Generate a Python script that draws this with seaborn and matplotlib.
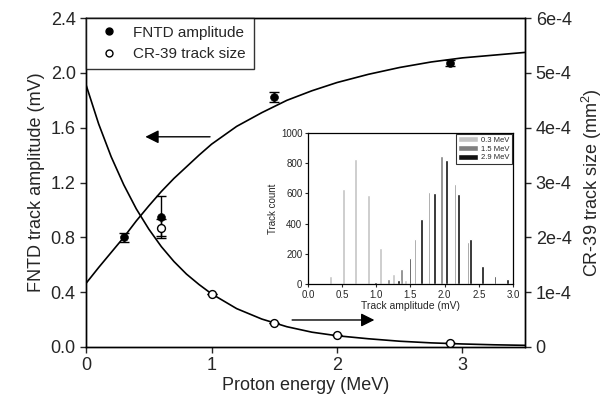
import matplotlib
matplotlib.use('Agg')
import matplotlib.pyplot as plt
from matplotlib.lines import Line2D
import pandas as pd
import seaborn as sns

# main plot: measured points
fntd_energy = [0.3, 0.6, 1.5, 2.9]
fntd_amp = [0.80, 0.95, 1.826, 2.074]
fntd_err = [0.033, 0.155, 0.035, 0.02]

cr39_energy = [0.6, 1.0, 1.5, 2.0, 2.9]
cr39_size = [2.18e-4, 9.67e-5, 4.3e-5, 2.24e-5, 6.7e-6]
cr39_err = [1.5e-5, 0, 0, 0, 0]

# fitted curves
fit_x = [0, 0.1, 0.2, 0.3, 0.4, 0.5, 0.6, 0.7, 0.8, 0.9, 1.0, 1.2, 1.4, 1.6,
         1.8, 2.0, 2.25, 2.5, 2.75, 3.0, 3.25, 3.5]
fntd_fit = [0.465, 0.58, 0.69, 0.80, 0.92, 1.03, 1.135, 1.23, 1.315, 1.40, 1.48,
            1.61, 1.71, 1.80, 1.87, 1.93, 1.99, 2.04, 2.08, 2.11, 2.13, 2.15]
cr39_fit = [4.78e-4, 4.07e-4, 3.47e-4, 2.96e-4, 2.52e-4, 2.15e-4, 1.83e-4, 1.56e-4,
            1.33e-4, 1.14e-4, 9.7e-5, 7.0e-5, 5.1e-5, 3.7e-5, 2.7e-5, 2.05e-5,
            1.5e-5, 1.05e-5, 7.5e-6, 5.5e-6, 4.0e-6, 3.0e-6]

# inset histogram
amp_03 = [0.332, 0.517, 0.698, 0.882, 1.064, 1.248, 1.430, 1.624]
cnt_03 = [55, 629, 826, 587, 236, 64, 26, 9]
amp_15 = [1.175, 1.371, 1.566, 1.771, 1.951, 2.151, 2.346]
cnt_15 = [33, 97, 296, 607, 848, 662, 280]
amp_29 = [0.991, 1.322, 1.493, 1.664, 1.848, 2.024, 2.205, 2.381, 2.557, 2.737, 2.917]
cnt_29 = [11, 24, 170, 430, 600, 821, 596, 298, 119, 55, 31]

sns.set_style('ticks')
plt.rcParams['font.family'] = ['Liberation Sans', 'DejaVu Sans']
plt.rcParams['mathtext.fontset'] = 'custom'
plt.rcParams['mathtext.rm'] = 'Liberation Sans'

fig = plt.figure(figsize=(6.15, 4.03), dpi=100)
ax = fig.add_axes([0.140, 0.139, 0.714, 0.816])
ax2 = ax.twinx()

fit_df = pd.DataFrame({'energy': fit_x, 'fntd': fntd_fit, 'cr39': cr39_fit})
sns.lineplot(data=fit_df, x='energy', y='fntd', ax=ax, color='black', lw=1.2)
sns.lineplot(data=fit_df, x='energy', y='cr39', ax=ax2, color='black', lw=1.2)

ax.errorbar(fntd_energy, fntd_amp, yerr=fntd_err, fmt='none', ecolor='black',
            elinewidth=1, capsize=3.5, capthick=1)
sns.scatterplot(x=fntd_energy, y=fntd_amp, ax=ax, color='black', s=32,
                edgecolor='black', zorder=3)
ax2.errorbar(cr39_energy, cr39_size, yerr=cr39_err, fmt='none', ecolor='black',
             elinewidth=1, capsize=3.5, capthick=1)
sns.scatterplot(x=cr39_energy, y=cr39_size, ax=ax2, color='white', s=32,
                edgecolor='black', linewidth=1, zorder=3)

ax.set_xlim(0, 3.5)
ax.set_ylim(0, 2.4)
ax.set_xticks([0, 1, 2, 3])
ax.set_yticks([0.0, 0.4, 0.8, 1.2, 1.6, 2.0, 2.4])
ax.set_yticklabels(['0.0', '0.4', '0.8', '1.2', '1.6', '2.0', '2.4'])
ax2.set_ylim(0, 6e-4)
ax2.set_yticks([0, 1e-4, 2e-4, 3e-4, 4e-4, 5e-4, 6e-4])
ax2.set_yticklabels(['0', '1e-4', '2e-4', '3e-4', '4e-4', '5e-4', '6e-4'])

ax.set_xlabel('Proton energy (MeV)', fontsize=13, labelpad=2)
ax.set_ylabel('FNTD track amplitude (mV)', fontsize=13, labelpad=4)
ax2.set_ylabel('CR-39 track size (mm$^2$)', fontsize=13, labelpad=6)
for a in (ax, ax2):
    a.tick_params(labelsize=13, direction='out', length=4, width=1)
    for s in a.spines.values():
        s.set_linewidth(1)
        s.set_color('black')

ax.annotate('', xy=(0.45, 1.534), xytext=(1.01, 1.534),
            arrowprops=dict(arrowstyle='-|>', color='black', lw=1,
                            mutation_scale=20))
ax.annotate('', xy=(2.32, 0.197), xytext=(1.62, 0.197),
            arrowprops=dict(arrowstyle='-|>', color='black', lw=1,
                            mutation_scale=20))

handles = [Line2D([], [], marker='o', ls='none', color='black', markersize=5),
           Line2D([], [], marker='o', ls='none', markerfacecolor='white',
                  markeredgecolor='black', markersize=5)]
leg = ax2.legend(handles, ['FNTD amplitude', 'CR-39 track size'], loc='upper left',
                 fontsize=11, frameon=True, fancybox=False, borderaxespad=0,
                 handletextpad=0.6, borderpad=0.5)
leg.get_frame().set_edgecolor('black')
leg.get_frame().set_linewidth(1)

# inset
ins = fig.add_axes([0.5008, 0.2953, 0.3333, 0.3747])
ins.set_facecolor('white')
ins.bar(amp_03, cnt_03, width=0.042, color='#c4c4c4', label='0.3 MeV')
ins.bar(amp_15, cnt_15, width=0.042, color='#808080', label='1.5 MeV')
ins.bar(amp_29, cnt_29, width=0.042, color='#111111', label='2.9 MeV')
ins.set_xlim(0, 3.0)
ins.set_ylim(0, 1000)
ins.set_xticks([0, 0.5, 1.0, 1.5, 2.0, 2.5, 3.0])
ins.set_xticklabels(['0.0', '0.5', '1.0', '1.5', '2.0', '2.5', '3.0'])
ins.set_yticks([0, 200, 400, 600, 800, 1000])
ins.tick_params(labelsize=7, direction='out', length=2.5, width=0.8, pad=1.5)
ins.set_xlabel('Track amplitude (mV)', fontsize=7.5, labelpad=1)
ins.set_ylabel('Track count', fontsize=7, labelpad=2)
for s in ins.spines.values():
    s.set_linewidth(0.9)
    s.set_color('black')
il = ins.legend(loc='upper right', fontsize=5.5, frameon=True, fancybox=False,
                borderaxespad=0.15, handlelength=2.6, handleheight=0.8,
                labelspacing=0.15, borderpad=0.3, handletextpad=0.4)
il.get_frame().set_edgecolor('black')
il.get_frame().set_linewidth(0.8)

fig.savefig('out.png', dpi=100)
